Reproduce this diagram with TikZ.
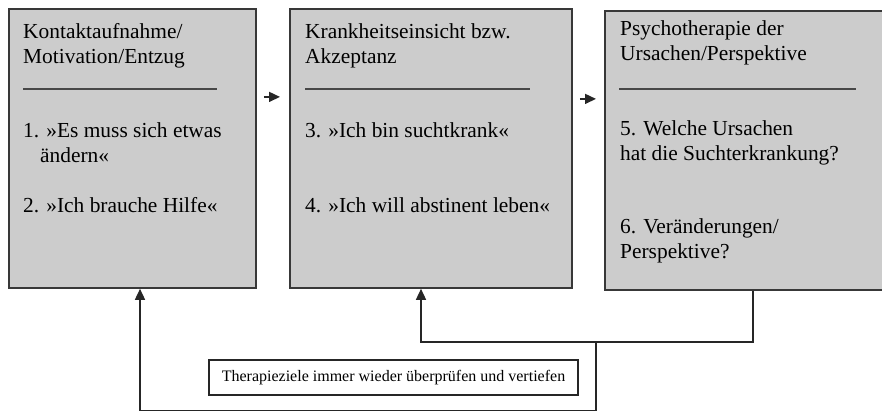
\documentclass[tikz,border=0pt]{standalone}
\usepackage{fontspec}
\setmainfont{Liberation Serif}
\usepackage{tikz}
\usetikzlibrary{calc,arrows.meta,positioning}
\tikzset{
  box/.style={draw=black!78, fill=black!20, line width=1.8pt, inner sep=0pt, anchor=north west},
  txt/.style={anchor=north west, inner sep=0pt, align=left, font=\fontsize{21.4}{25}\selectfont},
  rule/.style={draw=black!72, line width=1.8pt},
  note/.style={draw=black!85, line width=1.3pt, minimum width=369pt, minimum height=35pt, inner sep=0pt, font=\fontsize{16}{19}\selectfont},
  arr/.style={draw=black!85, line width=1.5pt, -{Triangle[length=11pt,width=10pt]}}
}
\begin{document}
\begin{tikzpicture}[x=1pt,y=-1pt]
  \clip (0,0) rectangle (882,412);
  \node[box, minimum width=247pt, minimum height=279pt] (box1) at (8,8) {};
  \node[box, minimum width=282pt, minimum height=279pt] (box2) at (289,8) {};
  \node[box, minimum width=290pt, minimum height=279pt] (box3) at (604,10) {};

  \node[txt] (t1) at ([shift={(15,15.2)}]box1.north west) {Kontaktaufnahme/\\Motivation/Entzug};
  \node[txt] (b1) at ([shift={(15,114.7)}]box1.north west) {1. »Es muss sich etwas\\\hspace*{17pt}ändern«\\[25pt]2. »Ich brauche Hilfe«};
  \node[txt] (t2) at ([shift={(16,15.2)}]box2.north west) {Krankheitseinsicht bzw.\\Akzeptanz};
  \node[txt] (b2) at ([shift={(16,114.7)}]box2.north west) {3. »Ich bin suchtkrank«\\[50pt]4. »Ich will abstinent leben«};
  \node[txt] (t3) at ([shift={(16,10.7)}]box3.north west) {Psychotherapie der\\Ursachen/Perspektive};
  \node[txt] (b3) at ([shift={(16,110.7)}]box3.north west) {5. Welche Ursachen\\hat die Suchterkrankung?\\[48pt]6. Veränderungen/\\Perspektive?};

  \draw[rule] ([shift={(15,81)}]box1.north west) -- ([shift={(209,81)}]box1.north west);
  \draw[rule] ([shift={(16,81)}]box2.north west) -- ([shift={(241,81)}]box2.north west);
  \draw[rule] ([shift={(15,79)}]box3.north west) -- ([shift={(252,79)}]box3.north west);

  \draw[arr, shorten <=7pt, shorten >=9pt] ([yshift=51.5pt]box1.east) -- ([yshift=51.5pt]box2.west);
  \draw[arr, shorten <=7pt, shorten >=8pt] ([yshift=49.5pt]box2.east) -- ([yshift=49.5pt]box2.east -| box3.west);

  \node[note] (fb) at (393.5,377.5) {Therapieziele immer wieder überprüfen und vertiefen};
  \coordinate (j1) at (596,342);
  \coordinate (j2) at (596,410.5);
  \draw[arr] ([xshift=149pt]box3.south west) |- (j1) -| ([xshift=132pt]box2.south west);
  \draw[arr] (j1) -- (j2) -| ([xshift=132pt]box1.south west);
\end{tikzpicture}
\end{document}
